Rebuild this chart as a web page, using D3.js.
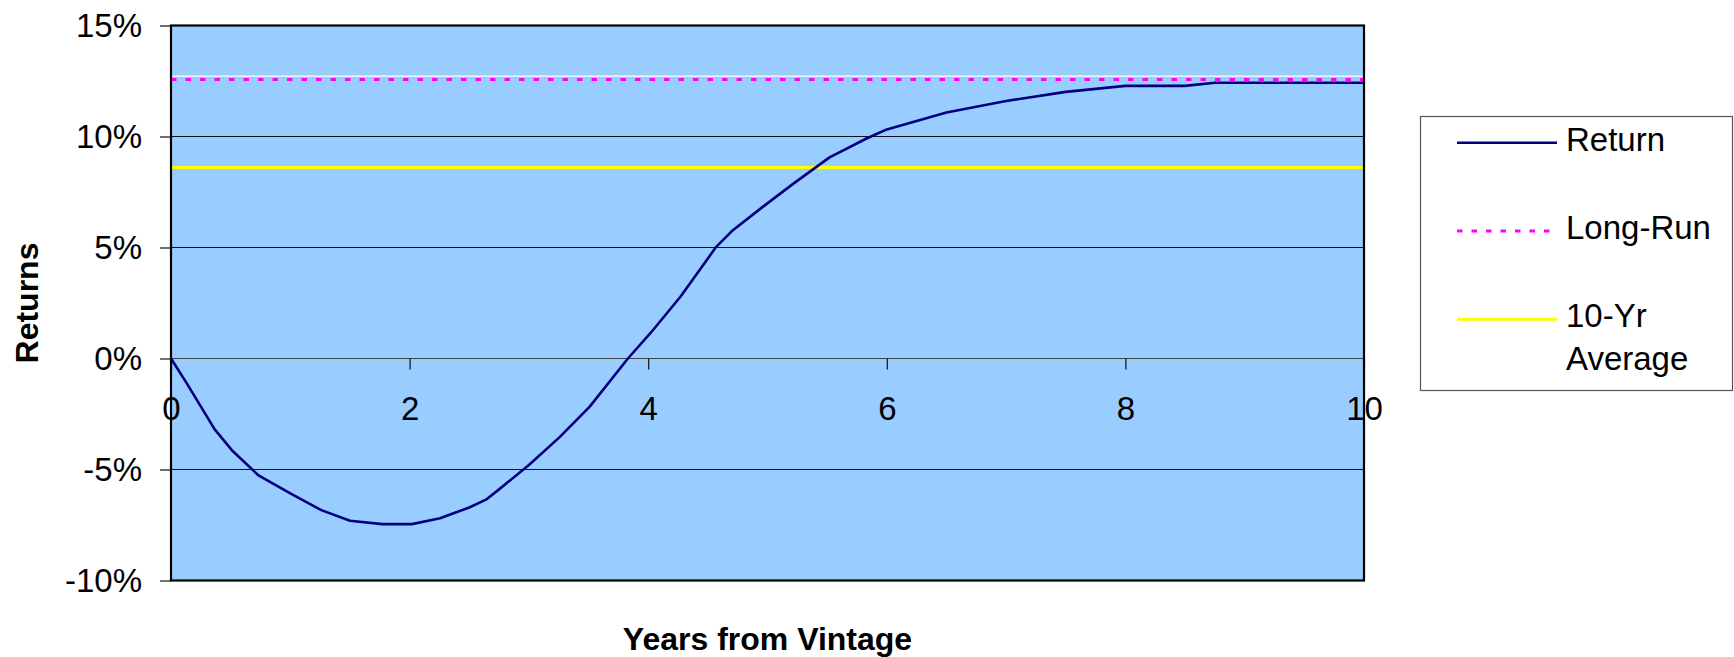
<!DOCTYPE html>
<html>
<head>
<meta charset="utf-8">
<script src="https://cdn.jsdelivr.net/npm/d3@7"></script>
<style>
  body { margin: 0; background: #fff; }
  svg { display: block; font-family: "Liberation Sans", Arial, sans-serif; }
</style>
</head>
<body>
<svg width="1734" height="657"></svg>
<script>
// years from vintage and cumulative return (%)
const years = [0, 0.13, 0.365, 0.51, 0.73, 1.0, 1.26, 1.5, 1.77, 2.02, 2.255, 2.38, 2.5, 2.64, 2.76,
  3.0, 3.26, 3.51, 3.83, 4.02, 4.27, 4.38, 4.57, 4.71, 4.96, 5.22, 5.52, 5.83, 6.0, 6.5,
  7.0, 7.5, 8.0, 8.5, 8.75, 10];
const returns = [0, -1.1, -3.18, -4.13, -5.25, -6.08, -6.83, -7.31, -7.46, -7.46, -7.2, -6.95, -6.71, -6.36, -5.85,
  -4.8, -3.53, -2.17, 0, 1.15, 2.78, 3.6, 5.03, 5.78, 6.83, 7.89, 9.06, 9.91, 10.32, 11.08,
  11.6, 12.01, 12.28, 12.28, 12.42, 12.42];
const longRun = 12.57;
const tenYrAvg = 8.6;
const topRef = 12.72;   // thin white line just above long-run
const yTicks = [-10, -5, 0, 5, 10, 15];
const xTicks = [0, 2, 4, 6, 8, 10];
const legendNames = ["Return", "Long-Run", "10-Yr Average"];

const svg = d3.select("svg");
const plotL = 171, plotR = 1364, plotT = 25.5, plotB = 580.5;

const x = d3.scaleLinear().domain([0, 10]).range([plotL, plotR]);
const y = d3.scaleLinear().domain([-10, 15]).range([plotB, plotT]);

// plot background
svg.append("rect")
  .attr("x", plotL).attr("y", plotT)
  .attr("width", plotR - plotL).attr("height", plotB - plotT)
  .attr("fill", "#99ccff");

// gridlines
svg.selectAll(".grid")
  .data(yTicks.filter(d => d > -10 && d < 15))
  .join("line")
  .attr("class", "grid")
  .attr("x1", plotL).attr("x2", plotR)
  .attr("y1", d => y(d)).attr("y2", d => y(d))
  .attr("stroke", d => d === 0 ? "#444" : "#111")
  .attr("stroke-width", 1.2);

// y axis ticks and labels
const yAxis = svg.append("g").attr("transform", `translate(${plotL},0)`)
  .call(d3.axisLeft(y).tickValues(yTicks).tickSize(11).tickPadding(18).tickFormat(d => d + "%"));
yAxis.select(".domain").remove();
yAxis.selectAll("line").attr("stroke", "#111").attr("stroke-width", 1.2);
yAxis.selectAll("text").attr("font-size", 33).attr("fill", "#000")
  .attr("font-family", "Liberation Sans, Arial, sans-serif");

// x axis sits on the 0% line
const xAxis = svg.append("g").attr("transform", `translate(0,${y(0)})`)
  .call(d3.axisBottom(x).tickValues(xTicks).tickSize(11).tickPadding(27).tickFormat(d3.format("d")));
xAxis.select(".domain").remove();
xAxis.selectAll("line").attr("stroke", "#111").attr("stroke-width", 1.2);
xAxis.selectAll("text").attr("font-size", 33).attr("fill", "#000")
  .attr("font-family", "Liberation Sans, Arial, sans-serif");

// reference lines
function hline(v, color, w, dash) {
  const l = svg.append("line")
    .attr("x1", x(0)).attr("x2", x(10))
    .attr("y1", y(v)).attr("y2", y(v))
    .attr("stroke", color).attr("stroke-width", w);
  if (dash) l.attr("stroke-dasharray", dash);
  return l;
}
hline(topRef, "#ffffff", 1.2);
hline(longRun, "#ff00ff", 3, "5.5 9");
hline(tenYrAvg, "#ffff00", 3);

// return curve
const line = d3.line().x((d, i) => x(years[i])).y(d => y(d));
svg.append("path")
  .datum(returns)
  .attr("d", line)
  .attr("fill", "none")
  .attr("stroke", "#000080")
  .attr("stroke-width", 2.6)
  .attr("stroke-linejoin", "round");

// plot border
svg.append("rect")
  .attr("x", plotL).attr("y", plotT)
  .attr("width", plotR - plotL).attr("height", plotB - plotT)
  .attr("fill", "none")
  .attr("stroke", "#000")
  .attr("stroke-width", 2.2);

// axis titles
svg.append("text")
  .attr("x", x(5)).attr("y", 650)
  .attr("text-anchor", "middle")
  .attr("font-size", 32).attr("font-weight", "bold")
  .text("Years from Vintage");

svg.append("text")
  .attr("transform", `translate(38,${(plotT + plotB) / 2}) rotate(-90)`)
  .attr("text-anchor", "middle")
  .attr("font-size", 32).attr("font-weight", "bold")
  .text("Returns");

// legend
const legend = svg.append("g");
legend.append("rect")
  .attr("x", 1420.5).attr("y", 116.5)
  .attr("width", 312).attr("height", 274)
  .attr("fill", "#fff").attr("stroke", "#555").attr("stroke-width", 1.2);

const legendStyle = [
  { color: "#000080", w: 2.6, dash: null, ly: 142.7 },
  { color: "#ff00ff", w: 3, dash: "5.5 9", ly: 231 },
  { color: "#ffff00", w: 3, dash: null, ly: 319.3 }
];
legendNames.forEach((name, i) => {
  const s = legendStyle[i];
  const ln = legend.append("line")
    .attr("x1", 1457).attr("x2", 1557)
    .attr("y1", s.ly).attr("y2", s.ly)
    .attr("stroke", s.color).attr("stroke-width", s.w);
  if (s.dash) ln.attr("stroke-dasharray", s.dash);
  const t = legend.append("text")
    .attr("x", 1566).attr("y", s.ly + 8)
    .attr("font-size", 33);
  if (name === "10-Yr Average") {
    t.append("tspan").attr("x", 1566).text("10-Yr");
    t.append("tspan").attr("x", 1566).attr("dy", 43).text("Average");
  } else {
    t.text(name);
  }
});
</script>
</body>
</html>
